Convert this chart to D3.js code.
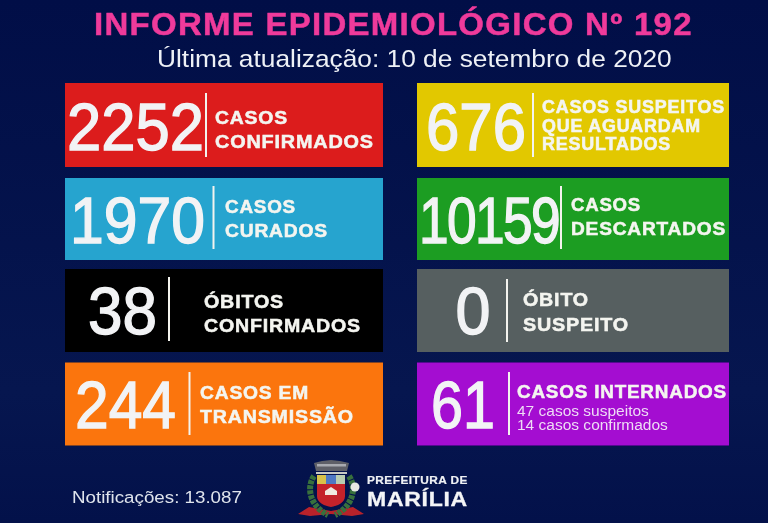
<!DOCTYPE html>
<html><head><meta charset="utf-8">
<script src="https://cdn.jsdelivr.net/npm/d3@7/dist/d3.min.js"></script>
<style>html,body{margin:0;padding:0;background:#020f48;overflow:hidden}svg{display:block}text{font-family:"Liberation Sans",Arial,sans-serif}</style>
</head><body><svg id="c" width="768" height="523"></svg>
<script>
const titleText = "INFORME EPIDEMIOLÓGICO Nº 192";
const subtitleText = "Última atualização: 10 de setembro de 2020";
const notificationsText = "Notificações: 13.087";
const cardIds = ["confirmados","suspeitos","curados","descartados","obitos","obitoSuspeito","transmissao","internados"];
const cardValues = [2252,676,1970,10159,38,0,244,61];
const cardLabels = [
  ["CASOS","CONFIRMADOS"],
  ["CASOS SUSPEITOS","QUE AGUARDAM","RESULTADOS"],
  ["CASOS","CURADOS"],
  ["CASOS","DESCARTADOS"],
  ["ÓBITOS","CONFIRMADOS"],
  ["ÓBITO","SUSPEITO"],
  ["CASOS EM","TRANSMISSÃO"],
  ["CASOS INTERNADOS"]
];
const cardNotes = [[],[],[],[],[],[],[],["47 casos suspeitos","14 casos confirmados"]];
const cardColors = ["#dc1a1b","#e2c805","#25a4cf","#1f9d20","#000000","#565f61","#fb7508","#a40ad1"];

/* layout only */
const rowTop = [83,178,269,362.5], rowH = [84,82,83,83];
const numX = [67,426,70,419,88,455.5,75,431];
const numW = [137,100,135,140,69,35,101,64];
const numBase = [150,150,243,243,334,334,428,428];
const divX = [206,533,213.5,561,169,507,189.5,509];
const divY = [[93,157],[93,157],[186,249],[186,249],[277,341],[279,342],[372,435],[372,435]];
const labX = [215,542,225,571,204,523,200,517];
const labW = [[73,159],[183,159,129],[71,103],[70,155],[80,157],[66,106],[109,154],[210]];
const labBase = [[124,148],[112.5,131.5,150],[213,237],[211,235],[308,332],[306,331],[399,423],[398]];
const noteW = [132,151], noteBase = [415.5,430];

const svg = d3.select("#c");
const defs = svg.append("defs");
defs.append("filter").attr("id","soft").append("feGaussianBlur").attr("stdDeviation",0.45);
const g0 = defs.append("linearGradient").attr("id","bg").attr("x1",0).attr("y1",0).attr("x2",0).attr("y2",1);
g0.append("stop").attr("offset",0).attr("stop-color","#010e47");
g0.append("stop").attr("offset",0.75).attr("stop-color","#06164f");
g0.append("stop").attr("offset",1).attr("stop-color","#03114a");
svg.append("rect").attr("width",768).attr("height",523).attr("fill","url(#bg)");

const root = svg.append("g").attr("filter","url(#soft)");
const col = d3.scaleOrdinal().domain([0,1]).range([65,417]);
const colW = d3.scaleOrdinal().domain([0,1]).range([318,312]);
const rowY = d3.scaleOrdinal().domain([0,1,2,3]).range(rowTop);
const rowHt = d3.scaleOrdinal().domain([0,1,2,3]).range(rowH);

/* stretch a text horizontally to a target width with a transform, so its box stays true */
function fit(sel, x, y, w){
  sel.each(function(d,i){
    const xx = typeof x==="function"?x(d,i):x, yy = typeof y==="function"?y(d,i):y, ww = typeof w==="function"?w(d,i):w;
    const n = this.getComputedTextLength();
    d3.select(this).attr("transform",`translate(${xx},${yy}) scale(${ww/n},1)`);
  });
  return sel;
}

root.append("text").text(titleText)
  .attr("font-size",31).attr("font-weight",700).attr("fill","#ef3a9b").attr("letter-spacing",1.2)
  .attr("stroke","#ef3a9b").attr("stroke-width",0.5)
  .call(fit,94,34.5,599);
root.append("text").text(subtitleText)
  .attr("font-size",24).attr("fill","#eef1f6").call(fit,157,66.5,515);
root.append("text").text(notificationsText)
  .attr("font-size",16.5).attr("fill","#dfe4ec").call(fit,72,503,170);

const cards = root.selectAll("g.card").data(cardIds).join("g").attr("class","card");
cards.append("rect")
  .attr("x",(d,i)=>col(i%2)).attr("y",(d,i)=>rowY(Math.floor(i/2)))
  .attr("width",(d,i)=>colW(i%2)).attr("height",(d,i)=>rowHt(Math.floor(i/2)))
  .attr("fill",(d,i)=>cardColors[i]);
cards.append("line")
  .attr("x1",(d,i)=>divX[i]).attr("x2",(d,i)=>divX[i])
  .attr("y1",(d,i)=>divY[i][0]).attr("y2",(d,i)=>divY[i][1])
  .attr("stroke","#f3f3ee").attr("stroke-width",2);
cards.append("text").text((d,i)=>cardValues[i])
  .attr("font-size",(d,i)=>i===2||i===3?64:67)
  .attr("letter-spacing",(d,i)=>i===3?-2:0)
  .attr("fill","#f2f3f5").attr("stroke","#f2f3f5").attr("stroke-width",1.4)
  .call(fit,(d,i)=>numX[i],(d,i)=>numBase[i],(d,i)=>numW[i]);
cards.each(function(d,i){
  const g = d3.select(this);
  g.selectAll("text.lab").data(cardLabels[i]).join("text").attr("class","lab")
    .text(t=>t)
    .attr("font-size",i===1?17.5:19).attr("font-weight",700).attr("letter-spacing",0.8)
    .attr("fill","#f4f5f0").attr("stroke","#f4f5f0").attr("stroke-width",0.55)
    .call(fit,labX[i],(t,j)=>labBase[i][j],(t,j)=>labW[i][j]);
  g.selectAll("text.note").data(cardNotes[i]).join("text").attr("class","note")
    .text(t=>t)
    .attr("font-size",14).attr("fill","#eedcf5")
    .call(fit,labX[i],(t,j)=>noteBase[j],(t,j)=>noteW[j]);
});

/* crest */
const crest = root.append("g");
crest.append("path").attr("d","M298 514 L309 507 L331 511 L353 507 L364 514 L352 516 L331 514 L310 516 Z").attr("fill","#b8232b");
crest.append("path").attr("d","M314 476 C306 488 310 506 328 515").attr("fill","none").attr("stroke","#37703c").attr("stroke-width",6).attr("stroke-dasharray","4 1");
crest.append("path").attr("d","M349 476 C357 488 353 506 335 515").attr("fill","none").attr("stroke","#37703c").attr("stroke-width",6).attr("stroke-dasharray","4 1");
crest.append("path").attr("d","M316 471 L314 463 L322 461 L331 460 L340 461 L349 463 L347 471 Z").attr("fill","#5e6068");
crest.append("rect").attr("x",317).attr("y",464).attr("width",29).attr("height",2.5).attr("fill","#a8aab0");
crest.append("rect").attr("x",316).attr("y",472).attr("width",31).attr("height",2).attr("fill","#c7c9c4");
crest.append("rect").attr("x",317).attr("y",475).attr("width",9).attr("height",9).attr("fill","#d9c24a");
crest.append("rect").attr("x",326).attr("y",475).attr("width",10).attr("height",9).attr("fill","#4f78c4");
crest.append("rect").attr("x",336).attr("y",475).attr("width",9).attr("height",9).attr("fill","#b9cdb2");
crest.append("path").attr("d","M317 484 L345 484 L345 496 C345 503 337 506 331 507 C325 506 317 503 317 496 Z").attr("fill","#c4242c");
crest.append("path").attr("d","M325 491 L331 487 L337 491 L337 495 L325 495 Z").attr("fill","#f0e9e0");
crest.append("circle").attr("cx",355).attr("cy",487).attr("r",4.5).attr("fill","#e8e8e4");

root.append("text").text("PREFEITURA DE")
  .attr("font-size",10.5).attr("font-weight",700).attr("fill","#eef0f4").attr("letter-spacing",0.4)
  .attr("stroke","#eef0f4").attr("stroke-width",0.2)
  .call(fit,367,483.5,101);
root.append("text").text("MARÍLIA")
  .attr("font-size",19.5).attr("font-weight",700).attr("fill","#f4f5f7").attr("letter-spacing",0.6)
  .attr("stroke","#f4f5f7").attr("stroke-width",0.3)
  .call(fit,367,505.5,101);
</script></body></html>
